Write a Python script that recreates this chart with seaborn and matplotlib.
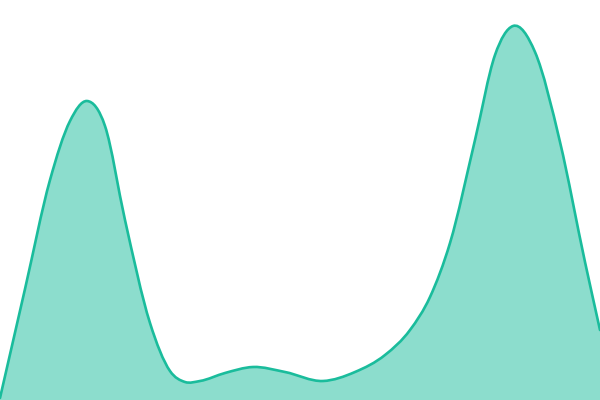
import matplotlib
matplotlib.use('Agg')
import matplotlib.pyplot as plt
from matplotlib.path import Path
from matplotlib.patches import PathPatch
import seaborn as sns
import numpy as np

# curve (x position, height above bottom)
xs = [0, 25, 50, 70, 87, 105, 125, 150, 170, 185, 200, 225, 253, 285, 323,
      355, 385, 410, 430, 450, 475, 495, 513, 535, 560, 585, 600]
heights = [2, 111, 220, 279, 299, 274, 180, 77, 29, 18, 19, 27, 33, 28, 19,
           28, 45, 70, 103, 157, 260, 345, 374, 348, 258, 138, 70]

color = '#1abc9c'


def smooth_path(x, y):
    # cardinal (catmull-rom style) curve through the points as bezier segments
    x = np.asarray(x, float)
    y = np.asarray(y, float)
    m = np.gradient(y, x)
    verts = [(x[0], y[0])]
    codes = [Path.MOVETO]
    for i in range(len(x) - 1):
        dx = (x[i + 1] - x[i]) / 3
        verts += [(x[i] + dx, y[i] + m[i] * dx),
                  (x[i + 1] - dx, y[i + 1] - m[i + 1] * dx),
                  (x[i + 1], y[i + 1])]
        codes += [Path.CURVE4] * 3
    return verts, codes


sns.set_style('white')
fig = plt.figure(figsize=(6, 4), dpi=100)
ax = fig.add_axes([0, 0, 1, 1])

verts, codes = smooth_path(xs, heights)
area = Path(verts + [(xs[-1], 0), (xs[0], 0), (xs[0], heights[0])],
            codes + [Path.LINETO, Path.LINETO, Path.CLOSEPOLY])
ax.add_patch(PathPatch(area, facecolor=color, alpha=0.5, edgecolor='none'))
ax.add_patch(PathPatch(Path(verts, codes), facecolor='none', edgecolor=color,
                       linewidth=1.9, capstyle='round', joinstyle='round'))

ax.set_xlim(0, 600)
ax.set_ylim(0, 400)
ax.axis('off')
fig.savefig('out.png', dpi=100)
